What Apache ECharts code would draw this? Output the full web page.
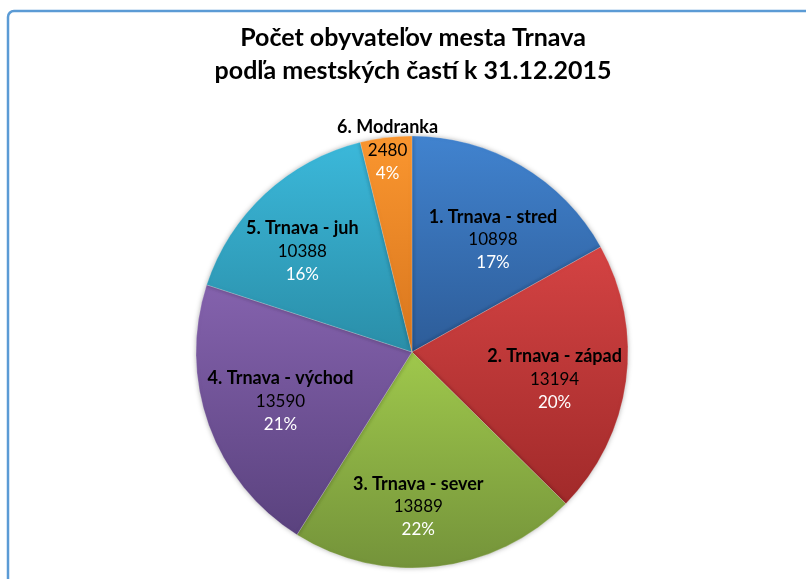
<!DOCTYPE html>
<html>
<head>
<meta charset="utf-8">
<script src="https://cdn.jsdelivr.net/npm/echarts@6/dist/echarts.min.js"></script>
<style>
  html, body { margin: 0; padding: 0; background: #fff; }
  #chart { width: 806px; height: 579px; }
</style>
</head>
<body>
<div id="chart"></div>
<script>
const districts = ['1. Trnava - stred', '2. Trnava - západ', '3. Trnava - sever', '4. Trnava - východ', '5. Trnava - juh', '6. Modranka']
const population = [10898, 13194, 13889, 13590, 10388, 2480]

// top / bottom gradient colours per slice
const topColors = ['#4183cf', '#d44343', '#9fc84c', '#8462ad', '#3bb8da', '#fa962f']
const bottomColors = ['#2d5c98', '#a12a2a', '#74933a', '#5a427e', '#2a8ea8', '#d8761e']
// label spot: share of the radius, and degrees turned off the slice's middle
const labelRadius = [0.64, 0.672, 0.717, 0.65, 0.69, 0.94]
const labelTurn = [5.5, 3.2, 4.3, -0.8, -4.6, 0]

const cx = 412, cy = 352, pieR = 216
const font = 'Lato, "Open Sans", sans-serif'

const chart = echarts.init(document.getElementById('chart'))

chart.setOption({
  animation: false,
  title: {
    text: 'Počet obyvateľov mesta Trnava\npodľa mestských častí k 31.12.2015',
    left: 408,
    textAlign: 'center',
    top: 16,
    textStyle: {
      fontFamily: font,
      fontSize: 25,
      fontWeight: 'bold',
      color: '#000',
      lineHeight: 33
    }
  },
  graphic: [{
    type: 'rect',
    shape: { x: 8, y: 11, width: 900, height: 700, r: 6 },
    style: { fill: 'none', stroke: '#5b9bd5', lineWidth: 2.5 },
    silent: true
  }],
  series: [{
    type: 'pie',
    center: [cx, cy],
    radius: pieR,
    startAngle: 90,
    clockwise: true,
    percentPrecision: 0,
    itemStyle: {
      borderColor: 'rgba(255,255,255,0.35)',
      borderWidth: 0.6,
      shadowBlur: 5,
      shadowColor: 'rgba(0,0,0,0.3)'
    },
    label: {
      position: 'inside',
      formatter: '{n|{b}}\n{v|{c}}\n{p|{d}%}',
      rich: {
        n: { fontFamily: font, fontSize: 18, fontWeight: 'bold', color: '#000', lineHeight: 23 },
        v: { fontFamily: font, fontSize: 17, color: '#000', lineHeight: 23 },
        p: { fontFamily: font, fontSize: 17, color: '#fff', lineHeight: 23 }
      }
    },
    labelLine: { show: false },
    labelLayout: function (params) {
      // default label sits on the slice's middle angle; move it along the circle
      const r = params.labelRect
      const dx = r.x + r.width / 2 - cx
      const dy = r.y + r.height / 2 - cy
      const i = params.dataIndex
      const a = Math.atan2(dx, -dy) + labelTurn[i] * Math.PI / 180
      const d = labelRadius[i] * pieR
      return {
        x: cx + d * Math.sin(a),
        y: cy - d * Math.cos(a)
      }
    },
    data: districts.map((name, i) => ({
      name: name,
      value: population[i],
      itemStyle: {
        color: new echarts.graphic.LinearGradient(0, 0, 0, 1, [
          { offset: 0, color: topColors[i] },
          { offset: 1, color: bottomColors[i] }
        ])
      }
    }))
  }]
})
</script>
</body>
</html>
